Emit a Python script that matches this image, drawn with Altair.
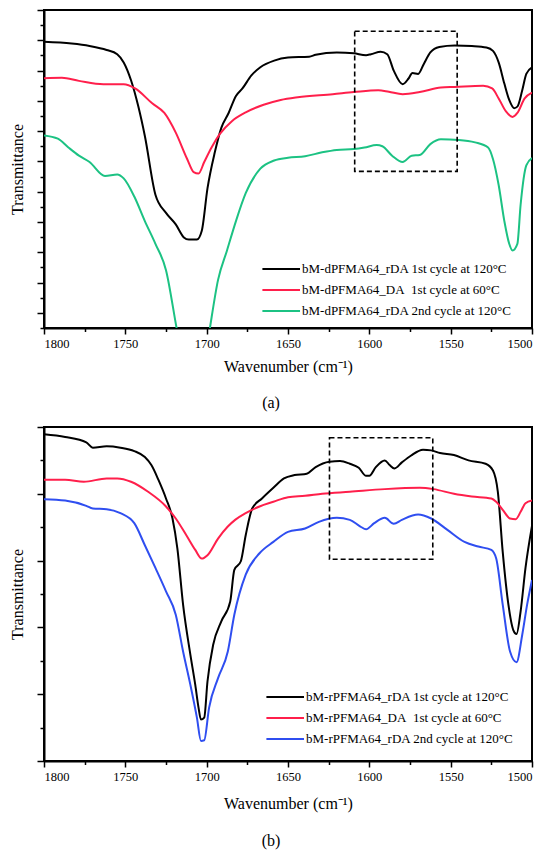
import altair as alt
import pandas as pd

SERIF = "Liberation Serif"

# ---------------- Panel (a) data ----------------
names_a = [
    "bM-dPFMA64_rDA 1st cycle at 120°C",
    "bM-dPFMA64_DA\u00a0 1st cycle at 60°C",
    "bM-dPFMA64_rDA 2nd cycle at 120°C",
]
colors_a = ["#000000", "#ff1f4b", "#1cc283"]

a_black_wn = [1800, 1783, 1772, 1761.5, 1755, 1751, 1746.5, 1742, 1738, 1731.5, 1725, 1719, 1714, 1711,
              1706, 1703, 1699.5, 1695, 1691, 1686.5, 1682, 1678, 1672.5, 1667, 1658.5, 1650, 1637, 1633,
              1620, 1609.5, 1602, 1599, 1593, 1589, 1585, 1579.5, 1576, 1573.5, 1570, 1566.5, 1562.5,
              1557, 1547.5, 1537, 1528, 1524, 1520.5, 1517, 1514, 1511, 1509, 1506, 1503.5, 1500]
a_black_t = [8.95, 8.89, 8.81, 8.68, 8.54, 8.27, 7.68, 6.81, 5.84, 3.90, 3.30, 2.92, 2.49, 2.42,
             2.42, 2.71, 4.11, 5.30, 6.11, 6.60, 7.16, 7.41, 7.84, 8.11, 8.33, 8.43, 8.46, 8.52,
             8.60, 8.57, 8.51, 8.54, 8.62, 8.54, 8.00, 7.55, 7.73, 7.92, 7.89, 8.22, 8.60,
             8.78, 8.83, 8.81, 8.76, 8.65, 8.27, 7.57, 7.03, 6.76, 6.81, 7.35, 7.89, 8.11]

a_red_wn = [1800, 1789, 1778.5, 1763.5, 1751, 1744, 1733.5, 1726, 1719, 1712, 1708, 1705, 1701.5, 1697,
            1692, 1684.5, 1676, 1665, 1654.5, 1644, 1622.5, 1609.5, 1594.5, 1588, 1579.5, 1569, 1556,
            1547.5, 1530, 1524.5, 1520.5, 1516, 1512, 1509, 1504.5, 1500]
a_red_t = [7.75, 7.76, 7.66, 7.55, 7.55, 7.41, 6.92, 6.60, 5.95, 5.08, 4.65, 4.60, 4.98, 5.46,
           5.90, 6.33, 6.62, 6.87, 7.03, 7.12, 7.22, 7.29, 7.35, 7.30, 7.22, 7.29, 7.44,
           7.46, 7.50, 7.41, 7.08, 6.65, 6.47, 6.60, 7.08, 7.27]

a_green_wn = [1800, 1791.5, 1785, 1778.5, 1772, 1762.5, 1755, 1751, 1744.5, 1738, 1731.5, 1725, 1718.5,
              1714, 1708, 1702, 1698, 1693, 1687.5, 1682, 1676, 1667, 1658.5, 1650, 1639.5, 1629, 1620,
              1609.5, 1603, 1595.5, 1592, 1586, 1579.5, 1574, 1569, 1562.5, 1556, 1545, 1535, 1527,
              1524, 1520.5, 1517, 1514, 1512, 1509, 1507, 1503.5, 1500]
a_green_t = [5.86, 5.75, 5.46, 5.19, 4.98, 4.52, 4.57, 4.44, 3.84, 3.03, 2.28, 1.41, -0.50,
             -1.8, -2.6, -1.9, -0.50, 1.09, 2.06, 3.03, 3.95, 4.76, 5.03, 5.12, 5.17, 5.30, 5.38,
             5.41, 5.46, 5.54, 5.50, 5.19, 4.98, 5.19, 5.21, 5.57, 5.73, 5.71, 5.63, 5.46,
             5.08, 4.22, 3.03, 2.28, 2.06, 2.28, 3.57, 4.87, 5.11]

a_box_wn = [1609]
a_box_wn2 = [1546]
a_box_t = [4.67]
a_box_t2 = [9.30]

# ---------------- Panel (b) data ----------------
names_b = [
    "bM-rPFMA64_rDA 1st cycle at 120°C",
    "bM-rPFMA64_DA\u00a0 1st cycle at 60°C",
    "bM-rPFMA64_rDA 2nd cycle at 120°C",
]
colors_b = ["#000000", "#ff1f4b", "#2f4ef0"]

b_black_wn = [1800, 1787, 1774, 1770, 1761.5, 1753, 1744.5, 1738, 1734, 1729.5, 1725, 1721, 1718, 1714.5,
              1710, 1707, 1705, 1703.5, 1701.5, 1699.5, 1696, 1691, 1685.5, 1683, 1679, 1676, 1672,
              1666, 1659, 1652.5, 1646, 1638.5, 1633, 1624.5, 1618, 1612, 1606.5, 1602, 1600, 1596,
              1590.5, 1587.5, 1584.5, 1580, 1574.5, 1567, 1562, 1556.5, 1548, 1539, 1528.5, 1524,
              1521, 1518, 1514.5, 1511.5, 1509.5, 1507, 1504, 1500]
b_black_t = [4.89, 4.85, 4.77, 4.69, 4.71, 4.69, 4.64, 4.55, 4.43, 4.20, 3.93, 3.63, 3.18, 2.34,
             1.59, 1.14, 0.80, 0.62, 0.65, 1.19, 1.74, 2.09, 2.39, 2.86, 2.99, 3.38, 3.78,
             3.93, 4.09, 4.23, 4.28, 4.30, 4.40, 4.48, 4.49, 4.45, 4.39, 4.27, 4.27, 4.40,
             4.50, 4.43, 4.38, 4.47, 4.57, 4.66, 4.65, 4.61, 4.58, 4.50, 4.45, 4.35,
             4.03, 3.13, 2.34, 1.96, 1.90, 2.24, 2.89, 3.52]

b_red_wn = [1800, 1787, 1775.5, 1761.5, 1755, 1746.5, 1736, 1725, 1719, 1712.5, 1707, 1703, 1699.5,
            1693, 1687, 1682.5, 1676, 1667.5, 1659, 1650, 1639.5, 1629, 1612, 1590.5, 1569, 1560.5,
            1548, 1537, 1525, 1522, 1518, 1513.5, 1510, 1507, 1504, 1500]
b_red_t = [4.21, 4.21, 4.18, 4.23, 4.23, 4.18, 4.03, 3.81, 3.63, 3.38, 3.16, 3.03, 3.08,
           3.33, 3.51, 3.61, 3.71, 3.81, 3.88, 3.95, 3.97, 4.00, 4.03, 4.07, 4.09, 4.07,
           4.00, 3.96, 3.93, 3.88, 3.76, 3.63, 3.62, 3.73, 3.86, 3.90]

b_blue_wn = [1800, 1787, 1774, 1770, 1761.5, 1753, 1744.5, 1738, 1731.5, 1725, 1719, 1714.5, 1710,
             1706, 1703.5, 1701.5, 1698.5, 1693, 1687, 1683, 1676, 1667.5, 1659, 1650, 1639.5,
             1631, 1620, 1612, 1605.5, 1602, 1597, 1590.5, 1585, 1580, 1570, 1562, 1552, 1541.5,
             1533, 1525, 1522, 1518, 1513.5, 1509.5, 1506, 1503, 1500]
b_blue_t = [3.92, 3.90, 3.82, 3.78, 3.77, 3.71, 3.56, 3.23, 2.89, 2.54, 2.19, 1.64, 1.14,
            0.65, 0.30, 0.31, 0.80, 1.24, 1.64, 2.19, 2.79, 3.11, 3.28, 3.43, 3.48,
            3.58, 3.64, 3.61, 3.51, 3.47, 3.56, 3.64, 3.55, 3.61, 3.69, 3.63, 3.46, 3.28,
            3.21, 3.16, 3.03, 2.34, 1.64, 1.48, 1.89, 2.34, 2.71]

b_box_wn = [1624.5]
b_box_wn2 = [1561]
b_box_t = [3.02]
b_box_t2 = [4.84]

x_ticks = list(range(1500, 1801, 25))


def series_df(names, wns, ts):
    frames = []
    for n, w, t in zip(names, wns, ts):
        frames.append(pd.DataFrame({"wn": w, "t": t, "series": n}))
    return pd.concat(frames, ignore_index=True)


def panel(df, names, colors, box_df, y_domain, y_ticks, caption, height,
          legend_x, legend_y, x_title_pad, caption_offset):
    x_enc = alt.X(
        "wn:Q",
        scale=alt.Scale(domain=[1500, 1800], reverse=True, nice=False, zero=False),
        axis=alt.Axis(
            values=x_ticks,
            labelExpr="datum.value % 50 === 0 ? datum.label : ''",
            tickSize={"condition": {"test": "datum.value % 50 === 0", "value": 6}, "value": 3.5},
            title="Wavenumber (cm⁻¹)",
            titlePadding=x_title_pad,
            grid=False,
            format="d",
        ),
    )
    y_enc = alt.Y(
        "t:Q",
        scale=alt.Scale(domain=y_domain, nice=False, zero=False),
        axis=alt.Axis(
            values=y_ticks,
            labels=False,
            tickSize={"condition": {"test": "datum.value % 1 === 0", "value": 7}, "value": 4},
            title="Transmittance",
            grid=False,
        ),
    )
    lines = alt.Chart(df).mark_line(clip=True, strokeWidth=2, interpolate="monotone").encode(
        x=x_enc,
        y=y_enc,
        color=alt.Color(
            "series:N",
            scale=alt.Scale(domain=names, range=colors),
            sort=names,
            legend=alt.Legend(
                title=None,
                orient="none",
                legendX=legend_x,
                legendY=legend_y,
                symbolType="M-3.7,0L1,0",
                symbolSize=256,
                symbolStrokeWidth=2,
                labelFont=SERIF,
                labelFontSize=13,
                labelColor="black",
                labelOffset=1,
                labelLimit=0,
                rowPadding=5,
                padding=0,
            ),
        ),
        detail="series:N",
    )
    box = alt.Chart(box_df).mark_rect(
        fillOpacity=0, stroke="black", strokeWidth=1.6, strokeDash=[5, 3]
    ).encode(x=x_enc, x2="wn2:Q", y=y_enc, y2="t2:Q")
    return alt.layer(lines, box).properties(
        width=488,
        height=height,
        title=alt.TitleParams(
            caption, orient="bottom", anchor="middle", frame="bounds", offset=caption_offset,
            font=SERIF, fontSize=16, fontWeight="normal", color="black",
        ),
    )


df_a = series_df(names_a, [a_black_wn, a_red_wn, a_green_wn], [a_black_t, a_red_t, a_green_t])
df_b = series_df(names_b, [b_black_wn, b_red_wn, b_blue_wn], [b_black_t, b_red_t, b_blue_t])
box_a = pd.DataFrame({"wn": a_box_wn, "wn2": a_box_wn2, "t": a_box_t, "t2": a_box_t2})
box_b = pd.DataFrame({"wn": b_box_wn, "wn2": b_box_wn2, "t": b_box_t, "t2": b_box_t2})

y_ticks_a = [i * 0.5 for i in range(-1, 21)]
y_ticks_b = [i * 0.5 for i in range(0, 11)]

pa = panel(df_a, names_a, colors_a, box_a, [-0.5, 10], y_ticks_a, "(a)", 318, 239, 250, 9, 20)
pb = panel(df_b, names_b, colors_b, box_b, [0, 5], y_ticks_b, "(b)", 334, 243, 261, 13, 21)

chart = (
    alt.vconcat(pa, pb, spacing=13)
    .resolve_scale(color="independent")
    .properties(padding={"left": 0, "top": 0, "right": 0, "bottom": 0})
    .configure_view(stroke="black", strokeWidth=2)
    .configure_axis(
        domainColor="black",
        domainWidth=2,
        tickColor="black",
        tickWidth=1.5,
        labelFont=SERIF,
        labelFontSize=12.5,
        labelColor="black",
        labelPadding=3,
        titleFont=SERIF,
        titleFontSize=16,
        titleFontWeight="normal",
        titleColor="black",
    )
    .configure_axisY(titlePadding=11)
)

chart.save("out.html", embed_options={"renderer": "svg", "actions": False})
